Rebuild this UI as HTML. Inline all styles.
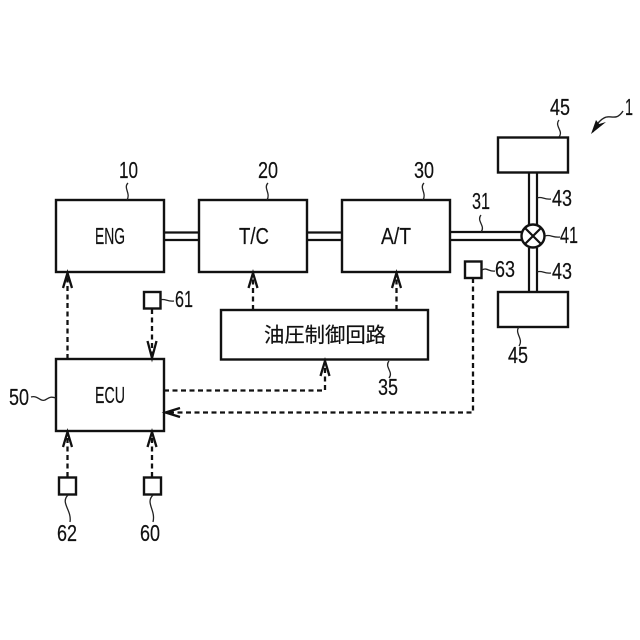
<!DOCTYPE html>
<html><head><meta charset="utf-8"><style>
html,body{margin:0;padding:0;background:#fff}
svg{display:block}
text{font-family:"Liberation Sans","Noto Sans CJK JP",sans-serif;font-size:23px;fill:#111;stroke:#111;stroke-width:.2}
.b{fill:#fff;stroke:#111;stroke-width:2.4}
.l{fill:none;stroke:#111;stroke-width:2.2}
.t{fill:none;stroke:#222;stroke-width:1.3}
.d{fill:none;stroke:#111;stroke-width:2.300;stroke-dasharray:5 3.5}
.a{fill:none;stroke:#111;stroke-width:2.300}
</style></head><body>
<svg width="640" height="640" viewBox="0 0 640 640" xmlns="http://www.w3.org/2000/svg">
<rect width="640" height="640" fill="#fff"/>
<!-- shafts -->
<path class="l" d="M164 232.500H199M164 240H199M307 232.500H342M307 240H342M450 232H522M450 240H522"/>
<path class="l" d="M529 172V225M537 172V225M529 248V292M537 248V292"/>
<!-- boxes -->
<rect class="b" x="56" y="200" width="108" height="72"/>
<rect class="b" x="199" y="200" width="108" height="72"/>
<rect class="b" x="342" y="200" width="108" height="72"/>
<rect class="b" x="221" y="310" width="207" height="49.500"/>
<rect class="b" x="56" y="359" width="108" height="72"/>
<rect class="b" x="498" y="137.500" width="70" height="35"/>
<rect class="b" x="498" y="292" width="70" height="35"/>
<circle class="b" cx="533" cy="236" r="11.500"/>
<path class="l" d="M525 228L541 244M541 228L525 244"/>
<!-- sensors -->
<rect class="b" x="144" y="292" width="16.500" height="16.500"/>
<rect class="b" x="465" y="261.500" width="16.500" height="16.500"/>
<rect class="b" x="59" y="477.500" width="17" height="17"/>
<rect class="b" x="144" y="477.500" width="17" height="17"/>
<!-- dashed -->
<path class="d" d="M67.500 359V276"/>
<path class="d" d="M152 309V356"/>
<path class="d" d="M253 310V276"/>
<path class="d" d="M396.500 310V276"/>
<path class="d" d="M164 390.500H325V363"/>
<path class="d" d="M473 278V412.500H167"/>
<path class="d" d="M67.500 477V435"/>
<path class="d" d="M152 477V435"/>
<!-- arrowheads -->
<path class="a" d="M63 288L67.500 273L72 288"/>
<path class="a" d="M147.500 341L152 358L156.500 341"/>
<path class="a" d="M248.500 288L253 273L257.500 288"/>
<path class="a" d="M392 288L396.500 273L401 288"/>
<path class="a" d="M320.500 376L325 361L329.500 376"/>
<path class="a" d="M180 408L165.500 412.500L180 417"/>
<path class="a" d="M63 447L67.500 432L72 447"/>
<path class="a" d="M147.500 447L152 432L156.500 447"/>
<!-- leader squiggles -->
<path class="t" d="M128 183C123 188 131 193 127 200"/>
<path class="t" d="M268 183C263 188 271 193 267 200"/>
<path class="t" d="M424 183C419 188 427 193 423 200"/>
<path class="t" d="M481 215C476 221 486 226 481 232"/>
<path class="t" d="M559 120C554 126 564 131 559 137"/>
<path class="t" d="M519 327C514 333 524 339 519 346"/>
<path class="t" d="M389 361C384 367 394 372 389 378"/>
<path class="t" d="M31 397C38 395 40 402 45 400C49 398 50 396 56 398"/>
<path class="t" d="M160 300C165 298 167 302 174 301"/>
<path class="t" d="M482 270C487 267 489 272 495 271"/>
<path class="t" d="M537 198C542 196 544 200 551 199"/>
<path class="t" d="M537 272C542 270 544 274 551 273"/>
<path class="t" d="M545 236C550 234 553 238 560 237"/>
<path class="t" d="M68 495C60 503 72 510 70 522"/>
<path class="t" d="M153 495C145 503 156 510 153 522"/>
<!-- arrow 1 -->
<path class="t" d="M623 111C616 122 610 114 604 118C600 120 596 125 593 132" style="stroke-width:1.400"/>
<path d="M591 134L596 120L599 124L606 122Z" fill="#111"/>
<!-- labels -->
<text x="95" y="244" textLength="30" lengthAdjust="spacingAndGlyphs">ENG</text>
<text x="239" y="244" textLength="30" lengthAdjust="spacingAndGlyphs">T/C</text>
<text x="381" y="244" textLength="30" lengthAdjust="spacingAndGlyphs">A/T</text>
<text x="95" y="403" textLength="30" lengthAdjust="spacingAndGlyphs">ECU</text>
<text x="264" y="342" style="font-size:20.500px" textLength="122" lengthAdjust="spacingAndGlyphs">油圧制御回路</text>
<text x="119" y="178" textLength="19" lengthAdjust="spacingAndGlyphs">10</text>
<text x="258" y="178" textLength="20" lengthAdjust="spacingAndGlyphs">20</text>
<text x="414" y="178" textLength="20" lengthAdjust="spacingAndGlyphs">30</text>
<text x="472" y="209" textLength="18" lengthAdjust="spacingAndGlyphs">31</text>
<text x="550" y="115" textLength="20" lengthAdjust="spacingAndGlyphs">45</text>
<text x="508" y="363" textLength="20" lengthAdjust="spacingAndGlyphs">45</text>
<text x="552" y="206" textLength="20" lengthAdjust="spacingAndGlyphs">43</text>
<text x="552" y="279" textLength="20" lengthAdjust="spacingAndGlyphs">43</text>
<text x="560" y="243" textLength="18" lengthAdjust="spacingAndGlyphs">41</text>
<text x="495" y="277" textLength="20" lengthAdjust="spacingAndGlyphs">63</text>
<text x="175" y="307" textLength="18" lengthAdjust="spacingAndGlyphs">61</text>
<text x="378" y="395" textLength="20" lengthAdjust="spacingAndGlyphs">35</text>
<text x="9" y="405" textLength="20" lengthAdjust="spacingAndGlyphs">50</text>
<text x="57" y="541" textLength="20" lengthAdjust="spacingAndGlyphs">62</text>
<text x="140" y="541" textLength="20" lengthAdjust="spacingAndGlyphs">60</text>
<text x="625" y="115" textLength="8" lengthAdjust="spacingAndGlyphs">1</text>
</svg>
</body></html>
